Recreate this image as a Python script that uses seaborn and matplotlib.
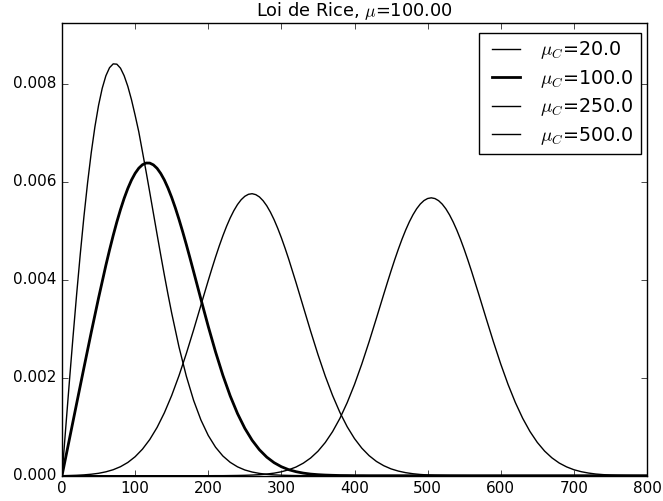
import pandas as pd
import matplotlib
matplotlib.use("Agg")
import matplotlib.pyplot as plt
import seaborn as sns

# ---------------------------------------------------------------
# Densités de Rice (grille de pas 10)
# ---------------------------------------------------------------
x_vals = [
    0, 10, 20, 30, 40, 50, 60, 70, 80, 90,
    100, 110, 120, 130, 140, 150, 160, 170, 180, 190,
    200, 210, 220, 230, 240, 250, 260, 270, 280, 290,
    300, 310, 320, 330, 340, 350, 360, 370, 380, 390,
    400, 410, 420, 430, 440, 450, 460, 470, 480, 490,
    500, 510, 520, 530, 540, 550, 560, 570, 580, 590,
    600, 610, 620, 630, 640, 650, 660, 670, 680, 690,
    700, 710, 720, 730, 740, 750, 760, 770, 780, 790,
    800,
]

pdf_mu20 = [
    0.0, 0.001903, 0.003698, 0.005288, 0.006592, 0.007558, 0.008160, 0.008403, 0.008315, 0.007945,
    0.007355, 0.006612, 0.005783, 0.004926, 0.004092, 0.003318, 0.002626, 0.002032, 0.001536, 0.001136,
    0.000821, 0.000581, 0.000402, 0.000273, 0.000181, 0.000117, 0.000075, 0.000047, 0.000028, 0.000017,
    0.000010, 0.000006, 0.000003, 0.000002, 0.000001, 0.0, 0.0, 0.0, 0.0, 0.0,
    0.0, 0.0, 0.0, 0.0, 0.0, 0.0, 0.0, 0.0, 0.0, 0.0,
    0.0, 0.0, 0.0, 0.0, 0.0, 0.0, 0.0, 0.0, 0.0, 0.0,
    0.0, 0.0, 0.0, 0.0, 0.0, 0.0, 0.0, 0.0, 0.0, 0.0,
    0.0, 0.0, 0.0, 0.0, 0.0, 0.0, 0.0, 0.0, 0.0, 0.0,
    0.0,
]

pdf_mu100 = [
    0.0, 0.000736, 0.001471, 0.002203, 0.002926, 0.003627, 0.004293, 0.004901, 0.005431, 0.005861,
    0.006170, 0.006345, 0.006379, 0.006272, 0.006033, 0.005678, 0.005230, 0.004717, 0.004163, 0.003599,
    0.003046, 0.002525, 0.002049, 0.001629, 0.001268, 0.000967, 0.000723, 0.000529, 0.000379, 0.000266,
    0.000183, 0.000123, 0.000082, 0.000053, 0.000033, 0.000021, 0.000013, 0.000008, 0.000004, 0.000003,
    0.000001, 0.000001, 0.0, 0.0, 0.0, 0.0, 0.0, 0.0, 0.0, 0.0,
    0.0, 0.0, 0.0, 0.0, 0.0, 0.0, 0.0, 0.0, 0.0, 0.0,
    0.0, 0.0, 0.0, 0.0, 0.0, 0.0, 0.0, 0.0, 0.0, 0.0,
    0.0, 0.0, 0.0, 0.0, 0.0, 0.0, 0.0, 0.0, 0.0, 0.0,
    0.0,
]

pdf_mu250 = [
    0.0, 0.000004, 0.000009, 0.000017, 0.000030, 0.000049, 0.000079, 0.000122, 0.000184, 0.000270,
    0.000387, 0.000541, 0.000738, 0.000984, 0.001284, 0.001637, 0.002042, 0.002492, 0.002976, 0.003480,
    0.003982, 0.004462, 0.004895, 0.005259, 0.005533, 0.005701, 0.005754, 0.005688, 0.005508, 0.005225,
    0.004855, 0.004420, 0.003942, 0.003445, 0.002949, 0.002474, 0.002033, 0.001638, 0.001292, 0.000999,
    0.000757, 0.000562, 0.000409, 0.000291, 0.000204, 0.000139, 0.000094, 0.000062, 0.000040, 0.000025,
    0.000015, 0.000009, 0.000006, 0.000003, 0.000002, 0.000001, 0.0, 0.0, 0.0, 0.0,
    0.0, 0.0, 0.0, 0.0, 0.0, 0.0, 0.0, 0.0, 0.0, 0.0,
    0.0, 0.0, 0.0, 0.0, 0.0, 0.0, 0.0, 0.0, 0.0, 0.0,
    0.0,
]

pdf_mu500 = [
    0.0, 0.0, 0.0, 0.0, 0.0, 0.0, 0.0, 0.0, 0.0, 0.0,
    0.0, 0.0, 0.0, 0.0, 0.0, 0.0, 0.0, 0.0, 0.0, 0.0,
    0.0, 0.000001, 0.000001, 0.000003, 0.000005, 0.000008, 0.000013, 0.000021, 0.000034, 0.000052,
    0.000080, 0.000121, 0.000177, 0.000256, 0.000361, 0.000499, 0.000677, 0.000899, 0.001169, 0.001491,
    0.001862, 0.002280, 0.002735, 0.003215, 0.003703, 0.004180, 0.004624, 0.005013, 0.005325, 0.005544,
    0.005656, 0.005655, 0.005541, 0.005321, 0.005008, 0.004619, 0.004175, 0.003699, 0.003211, 0.002732,
    0.002278, 0.001862, 0.001492, 0.001171, 0.000901, 0.000679, 0.000502, 0.000364, 0.000258, 0.000180,
    0.000122, 0.000082, 0.000054, 0.000034, 0.000022, 0.000013, 0.000008, 0.000005, 0.000003, 0.000002,
    0.000001,
]

# Points supplémentaires (demi-pas) là où les courbes tournent le plus
mid_x_mu20 = [5, 15, 25, 35, 45, 55, 65, 75, 85, 95, 105, 115, 125, 135, 145]
mid_mu20 = [0.000958, 0.002821, 0.004524, 0.005979, 0.007119, 0.007905, 0.008325, 0.008397,
            0.008161, 0.007673, 0.007017, 0.006205, 0.005354, 0.004504, 0.003696]

mid_x_mu100 = [65, 75, 85, 95, 105, 115, 125, 135, 145, 155, 165, 175]
mid_mu100 = [0.004605, 0.005178, 0.005660, 0.006032, 0.006275, 0.006380, 0.006342, 0.006167,
             0.005868, 0.005464, 0.004980, 0.004443]

mid_x_mu250 = [195, 205, 215, 225, 235, 245, 255, 265, 275, 285, 295, 305]
mid_mu250 = [0.003732, 0.004226, 0.004686, 0.005087, 0.005408, 0.005631, 0.005742, 0.005735,
             0.005611, 0.005378, 0.005049, 0.004644]

mid_x_mu500 = [445, 455, 465, 475, 485, 495, 505, 515, 525, 535, 545, 555]
mid_mu500 = [0.003944, 0.004408, 0.004827, 0.005180, 0.005447, 0.005614, 0.005670, 0.005612,
             0.005444, 0.005175, 0.004822, 0.004402]

labels = [r'$\mu_C$=20.0', r'$\mu_C$=100.0', r'$\mu_C$=250.0', r'$\mu_C$=500.0']
series = [
    (pdf_mu20, mid_x_mu20, mid_mu20),
    (pdf_mu100, mid_x_mu100, mid_mu100),
    (pdf_mu250, mid_x_mu250, mid_mu250),
    (pdf_mu500, mid_x_mu500, mid_mu500),
]
line_widths = [1.0, 2.0, 1.0, 1.0]

# ---------------------------------------------------------------
# Style "classic" de matplotlib
# ---------------------------------------------------------------
plt.style.use('classic')
plt.rcParams['figure.facecolor'] = 'white'
plt.rcParams['savefig.facecolor'] = 'white'

fig = plt.figure(figsize=(6.63, 5.01), dpi=100)
ax = fig.add_axes([62 / 663, 25.3 / 501, 585 / 663, 453 / 501])

for lab, (vals, mx, mv), lw in zip(labels, series, line_widths):
    df = pd.concat([
        pd.DataFrame({'x': x_vals, 'pdf': vals}),
        pd.DataFrame({'x': mx, 'pdf': mv}),
    ]).sort_values('x')
    sns.lineplot(data=df, x='x', y='pdf', color='k', linewidth=lw,
                 label=lab, ax=ax)

ax.set_xlim(0, 800)
ax.set_ylim(0, 1.1 * max(mid_mu20 + pdf_mu20))
ax.set_xlabel('')
ax.set_ylabel('')
ax.set_title(r'Loi de Rice, $\mu$=100.00', fontsize=12.8)
ax.tick_params(labelsize=11)

leg = ax.legend(loc='upper right', bbox_to_anchor=(0.9897, 0.978),
                borderaxespad=0, fontsize=13.8, handlelength=2.1,
                handletextpad=0.75, labelspacing=0.34, borderpad=0.35)
leg.get_frame().set_edgecolor('k')

fig.savefig('out.png', dpi=100)
